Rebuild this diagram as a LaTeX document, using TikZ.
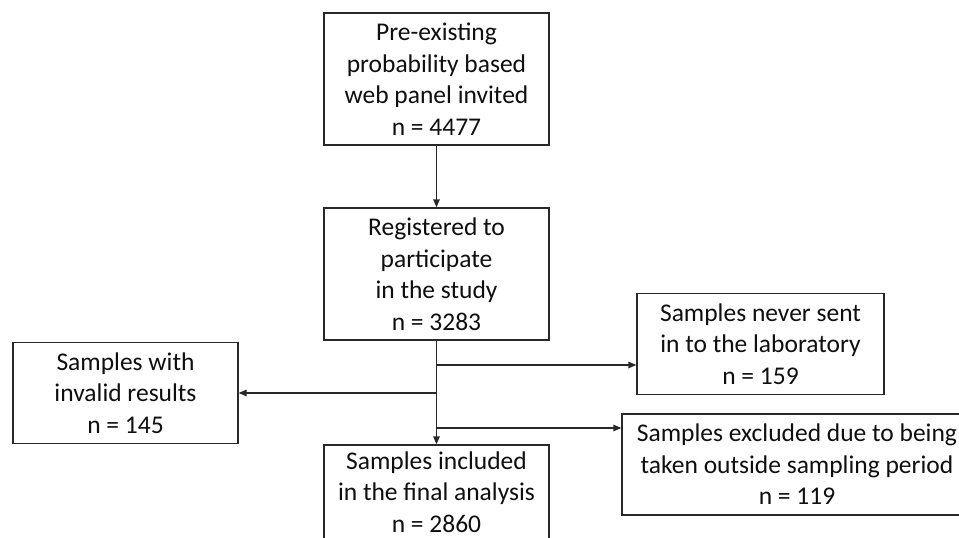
\documentclass[tikz,border=0pt]{standalone}
\usepackage{fontspec}
\setmainfont{Carlito}
\usetikzlibrary{arrows.meta,positioning}
\definecolor{ink}{RGB}{40,40,40}
\definecolor{txt}{RGB}{15,15,15}
\tikzset{
  box/.style={draw=ink,line width=1.3pt,fill=white,inner sep=2pt,
    font=\fontsize{25.5}{31.5}\selectfont,text=txt,align=center,
    minimum width=225pt,minimum height=132pt},
  side/.style={box,minimum height=101pt},
  arr/.style={-{Triangle[length=8pt,width=6.5pt]},line width=1.3pt,draw=ink},
}
\begin{document}
\begin{tikzpicture}[x=1pt,y=-1pt]
  \useasboundingbox (0,0) rectangle (959,538);
  % main column
  \node[box] (invited) at (436.5,79)
    {Pre-existing\\probability based\\web panel invited\\n = 4477};
  \node[box] (registered) at (436.5,274)
    {Registered to\\participate\\in the study\\n = 3283};
  \node[side,minimum height=94pt] (included) at (436.5,492)
    {Samples included\\in the final analysis\\n = 2860};
  % exclusions
  \node[side] (invalid) at (125.5,393)
    {Samples with\\invalid results\\n = 145};
  \node[side,minimum width=247pt] (neversent) at (760.5,344)
    {Samples never sent\\in to the laboratory\\n = 159};
  \node[side,minimum width=350pt] (excluded) at (797,464.5)
    {Samples excluded due to being\\taken outside sampling period\\n = 119};
  % branch points on the trunk
  \coordinate (b1) at (436.5,365);
  \coordinate (b2) at (436.5,393);
  \coordinate (b3) at (436.5,428);
  \draw[arr] (invited) -- (registered);
  \draw[arr] (registered) -- (included);
  \draw[arr] (b1) -- (b1 -| neversent.west);
  \draw[arr] (b2) -- (invalid.east);
  \draw[arr] (b3) -- (b3 -| excluded.west);
\end{tikzpicture}
\end{document}
